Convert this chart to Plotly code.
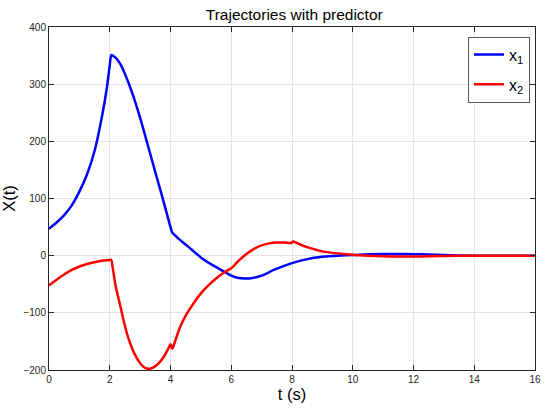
import plotly.graph_objects as go

# trajectories
t_x1 = [0, 0.25, 0.5, 0.75, 1.0, 1.25, 1.5, 1.75, 1.9, 2.0, 2.05, 2.1, 2.2, 2.35, 2.5, 2.75,
        3.0, 3.25, 3.5, 3.75, 4.0, 4.05, 4.1, 4.3, 4.6, 5.0, 5.4, 5.8, 6.0, 6.2, 6.45, 6.7,
        7.0, 7.4, 8.0, 8.5, 9.0, 9.5, 10, 10.5, 11, 11.5, 12, 12.5, 13, 14, 15, 16]
x1 = [47, 58, 71, 88, 112, 142, 183, 245, 292, 333, 351, 350, 346, 335, 318, 283,
      241, 194, 146, 99, 50, 41, 38, 28, 15, -3, -17, -29, -35, -38.5, -40, -39,
      -35, -25, -13, -6, -2, 0, 1, 2.5, 3, 3, 2.5, 2, 1, 0, 0, 0]

t_x2 = [0, 0.25, 0.5, 0.75, 1.0, 1.25, 1.5, 1.75, 2.0, 2.05, 2.1, 2.2, 2.3, 2.45, 2.6, 2.8,
        3.0, 3.15, 3.3, 3.45, 3.6, 3.8, 3.97, 4.0, 4.06, 4.1, 4.15, 4.3, 4.5, 4.75, 5.0, 5.25,
        5.5, 5.75, 5.95, 6.0, 6.05, 6.15, 6.3, 6.5, 6.75, 7.0, 7.25, 7.5, 7.75, 7.98, 8.02,
        8.07, 8.25, 8.5, 8.75, 9.0, 9.5, 10, 10.5, 11, 11.5, 12, 12.5, 13, 14, 15, 16]
x2 = [-52, -42, -33, -25, -19, -14.5, -11.5, -9, -7.5, -7, -22, -55, -77, -112, -142, -170,
      -188, -196, -198, -195, -189, -175, -158, -155, -163, -158, -150, -127, -105, -84, -66, -52,
      -40, -30, -23.5, -22, -19.5, -14, -6, 3, 12, 18, 21.5, 23, 23, 22, 24.5,
      24.5, 20, 15, 11, 7.5, 4, 1.5, 0, -1, -1.5, -1.5, -1, -0.5, 0, 0, 0]

x_ticks = [0, 2, 4, 6, 8, 10, 12, 14, 16]
y_ticks = [-200, -100, 0, 100, 200, 300, 400]

font_family = "Liberation Sans, Arial, Helvetica"

fig = go.Figure()
fig.add_trace(go.Scatter(x=t_x1, y=x1, mode="lines", name="x<sub>1</sub>", legendgroup="a",
                         line=dict(color="#0000ff", width=2.5, shape="spline", smoothing=0.6)))
fig.add_trace(go.Scatter(x=t_x2, y=x2, mode="lines", name="x<sub>2</sub>", legendgroup="b",
                         line=dict(color="#ff0000", width=2.5, shape="spline", smoothing=0.6)))

axis_style = dict(showline=True, linecolor="#262626", linewidth=1, mirror="ticks",
                  ticks="inside", ticklen=5, tickcolor="#262626",
                  showgrid=True, gridcolor="#e3e3e3", gridwidth=1, zeroline=False,
                  tickfont=dict(family=font_family, size=10, color="#262626"))

fig.update_xaxes(range=[0, 16], tickvals=x_ticks, **axis_style,
                 title=dict(text="t (s)", standoff=4,
                            font=dict(family=font_family, size=16.5, color="#000")))
fig.update_yaxes(range=[-200, 400], tickvals=y_ticks, **axis_style,
                 title=dict(text="X(t)", standoff=3,
                            font=dict(family=font_family, size=16.5, color="#000")))

fig.update_layout(
    width=550, height=412,
    margin=dict(l=48, r=9, t=27, b=42),
    paper_bgcolor="white", plot_bgcolor="white",
    title=dict(text="Trajectories with predictor", x=0.535, xanchor="center",
               y=1 - 15 / 412, yanchor="middle", yref="container",
               font=dict(family=font_family, size=15.5, color="#000")),
    legend=dict(x=0.862, y=0.972, xanchor="left", yanchor="top",
                bgcolor="white", bordercolor="#595959", borderwidth=1,
                font=dict(family=font_family, size=16, color="#000"),
                itemwidth=30, tracegroupgap=6),
    showlegend=True,
)

fig.write_html("out.html", config={"displayModeBar": False},
               post_script="document.body.style.margin='0';")
